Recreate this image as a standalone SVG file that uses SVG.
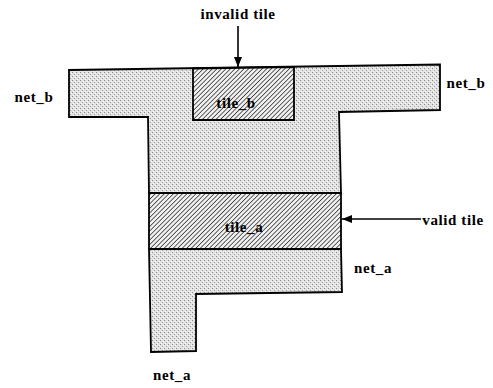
<svg xmlns="http://www.w3.org/2000/svg" width="493" height="388" viewBox="0 0 493 388">
<defs>
<pattern id="stip" width="4" height="4" patternUnits="userSpaceOnUse">
<rect width="4" height="4" fill="#e2e2e2"/>
<rect x="0" y="0" width="1" height="1" fill="#8a8a8a"/>
<rect x="2" y="2" width="1" height="1" fill="#a0a0a0"/>
<rect x="3" y="1" width="1" height="1" fill="#f8f8f8"/>
<rect x="1" y="3" width="1" height="1" fill="#f6f6f6"/>
</pattern>
<pattern id="hatch" width="3.2" height="3.2" patternUnits="userSpaceOnUse" patternTransform="rotate(45)">
<rect width="3.2" height="3.2" fill="#f0f0f0"/>
<line x1="0" y1="0" x2="0" y2="3.2" stroke="#222" stroke-width="1.4"/>
</pattern>
<marker id="ah" markerWidth="10" markerHeight="8" refX="10" refY="4" orient="auto" markerUnits="userSpaceOnUse">
<path d="M0,0 L10,4 L0,8 Z" fill="#000"/>
</marker>
</defs>
<style>
.stip{fill:url(#stip);stroke:#000;stroke-width:1.8;stroke-linejoin:miter}
.hatch{fill:url(#hatch);stroke:#000;stroke-width:1.8}
.lbl{font-family:"Liberation Serif","Times New Roman",serif;font-weight:bold;font-size:15px;fill:#000;letter-spacing:0.6px}
.conn{stroke:#000;stroke-width:1.6;fill:none}
</style>
<rect width="493" height="388" fill="#fff"/>
<g id="net_b">
<polygon class="stip" points="69,70 440,64.5 440,110 339,112 341,193 149,193 148,117 69,117"/>
</g>
<g id="tile_b">
<polygon class="hatch" points="193,68.5 294,67 294,120 193,120"/>
<text class="lbl" x="236" y="108" text-anchor="middle">tile_b</text>
</g>
<g id="tile_a">
<polygon class="hatch" points="149,193 341,193 341,249 149,249"/>
<text class="lbl" x="244" y="232" text-anchor="middle">tile_a</text>
</g>
<g id="net_a">
<polygon class="stip" points="149,249 341,249 342,292 196,294 196,351 151,352"/>
</g>
<g id="labels">
<text class="lbl" x="238" y="19" text-anchor="middle">invalid tile</text>
<text class="lbl" x="34" y="102" text-anchor="middle">net_b</text>
<text class="lbl" x="466" y="88" text-anchor="middle">net_b</text>
<text class="lbl" x="453" y="225" text-anchor="middle">valid tile</text>
<text class="lbl" x="373" y="273" text-anchor="middle">net_a</text>
<text class="lbl" x="172" y="380" text-anchor="middle">net_a</text>
</g>
<g id="connectors">
<line class="conn" x1="238" y1="26" x2="238" y2="67" marker-end="url(#ah)"/>
<line class="conn" x1="421" y1="219" x2="342" y2="219" marker-end="url(#ah)"/>
</g>
</svg>
